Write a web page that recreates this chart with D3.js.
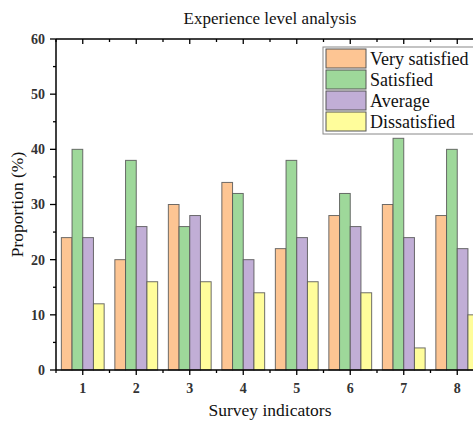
<!DOCTYPE html>
<html><head><meta charset="utf-8">
<script src="https://cdn.jsdelivr.net/npm/d3@7"></script>
<style>html,body{margin:0;padding:0;overflow:hidden;background:#fff}svg{display:block}
svg text{font-family:"Liberation Serif","Times New Roman",Times,serif}</style>
</head><body>
<script>
const categories = ["1","2","3","4","5","6","7","8"];
const seriesNames = ["Very satisfied","Satisfied","Average","Dissatisfied"];
const verySatisfied = [24,20,30,34,22,28,30,28];
const satisfied     = [40,38,26,32,38,32,42,40];
const average       = [24,26,28,20,24,26,24,22];
const dissatisfied  = [12,16,16,14,16,14,4,10];
const yTicks = [0,10,20,30,40,50,60];
const colors = ["#FDC593","#9ED89A","#C1AED6","#FFFD9B"];
const series = [verySatisfied, satisfied, average, dissatisfied];

(function(){
const W = 473, H = 421;
const pL = 56, pR = 484, pT = 39, pB = 370;
const svg = d3.select("body").append("svg").attr("width", W).attr("height", H);

const x = d3.scaleBand().domain(categories).range([pL, pR]).paddingInner(0.2).paddingOuter(0.1);
const step = x.step();
const xs = d3.scaleBand().domain(seriesNames).range([0, x.bandwidth()]);
const y = d3.scaleLinear().domain([0,60]).range([pB, pT]);

categories.forEach((c, i) => {
  series.forEach((s, j) => {
    svg.append("rect")
      .attr("x", x(c) + xs(seriesNames[j]))
      .attr("y", y(s[i]))
      .attr("width", xs.bandwidth())
      .attr("height", y(0) - y(s[i]))
      .attr("fill", colors[j])
      .attr("stroke", "#555")
      .attr("stroke-opacity", 0.85)
      .attr("stroke-width", 1);
  });
});

const center = c => x(c) + x.bandwidth()/2;
const majorX = categories.map(center);
const minorX = categories.map(c => center(c) - step/2).concat([center(categories[categories.length-1]) + step/2]);

const g = svg.append("g").attr("stroke", "#000");
g.append("line").attr("x1", pL).attr("x2", pR).attr("y1", pB).attr("y2", pB).attr("stroke-width", 1.5);
g.append("line").attr("x1", pL).attr("x2", pR).attr("y1", pT).attr("y2", pT).attr("stroke-width", 1.5);
g.append("line").attr("x1", pL).attr("x2", pL).attr("y1", pT).attr("y2", pB).attr("stroke-width", 1.5);
g.append("line").attr("x1", pR).attr("x2", pR).attr("y1", pT).attr("y2", pB).attr("stroke-width", 1.5);

majorX.forEach(px => {
  g.append("line").attr("x1", px).attr("x2", px).attr("y1", pB).attr("y2", pB+5).attr("stroke-width", 1.3);
  g.append("line").attr("x1", px).attr("x2", px).attr("y1", pT).attr("y2", pT+5).attr("stroke-width", 1.3);
});
minorX.forEach(px => {
  g.append("line").attr("x1", px).attr("x2", px).attr("y1", pB).attr("y2", pB+3).attr("stroke-width", 1.3);
  g.append("line").attr("x1", px).attr("x2", px).attr("y1", pT).attr("y2", pT+3).attr("stroke-width", 1.3);
});
yTicks.forEach(v => {
  g.append("line").attr("x1", pL-6).attr("x2", pL).attr("y1", y(v)).attr("y2", y(v)).attr("stroke-width", 1.3);
});
yTicks.slice(0,-1).forEach(v => {
  g.append("line").attr("x1", pL-3).attr("x2", pL).attr("y1", y(v+5)).attr("y2", y(v+5)).attr("stroke-width", 1.3);
});

svg.selectAll(".yl").data(yTicks).enter().append("text")
  .attr("x", pL-11).attr("y", d => y(d)).attr("dy", "0.35em")
  .attr("text-anchor", "end").attr("font-size", 14).attr("font-weight", "bold")
  .attr("fill", "#333").text(d => d);
svg.selectAll(".xl").data(categories).enter().append("text")
  .attr("x", d => center(d)).attr("y", pB+23)
  .attr("text-anchor", "middle").attr("font-size", 14).attr("font-weight", "bold")
  .attr("fill", "#333").text(d => d);

svg.append("text").attr("x", (pL+pR)/2).attr("y", 24).attr("text-anchor", "middle")
  .attr("font-size", 17).attr("fill", "#111").text("Experience level analysis");
svg.append("text").attr("x", (pL+pR)/2).attr("y", 416).attr("text-anchor", "middle")
  .attr("font-size", 17.5).attr("fill", "#111").text("Survey indicators");
svg.append("text").attr("transform", `translate(23,${(pT+pB)/2}) rotate(-90)`).attr("text-anchor", "middle")
  .attr("font-size", 17.5).attr("fill", "#111").text("Proportion (%)");

const lg = svg.append("g");
lg.append("rect").attr("x", 323).attr("y", 47).attr("width", 170).attr("height", 87)
  .attr("fill", "#fff").attr("stroke", "#888").attr("stroke-width", 1);
seriesNames.forEach((n, j) => {
  lg.append("rect").attr("x", 326).attr("y", 49 + j*21).attr("width", 40).attr("height", 19)
    .attr("fill", colors[j]).attr("stroke", "#555").attr("stroke-width", 1);
  lg.append("text").attr("x", 370).attr("y", 59 + j*21).attr("dy", "0.35em")
    .attr("font-size", 18).attr("fill", "#111").text(n);
});
})();
</script>
</body></html>
